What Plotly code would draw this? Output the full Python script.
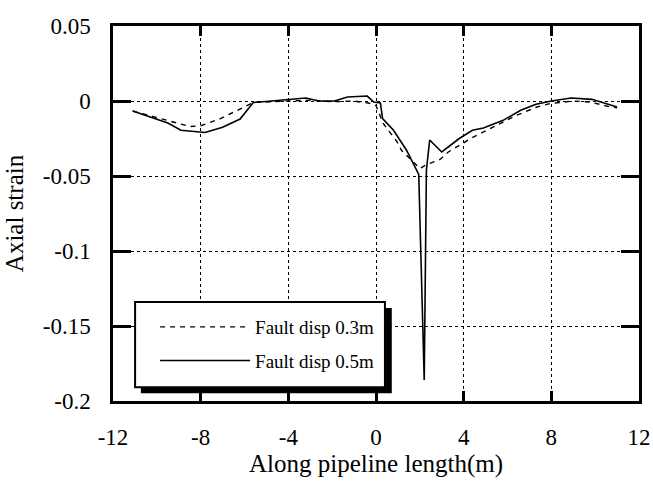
import plotly.graph_objects as go

# along-pipeline position (m) and axial strain
x_05 = [-11.1, -10.2, -9.5, -8.9, -7.8, -7.0, -6.2, -5.6, -4.8, -4.1, -3.2, -2.6,
        -1.9, -1.3, -0.4, -0.1, 0.2, 0.3, 0.8, 1.4, 1.95, 2.2, 2.3, 2.45, 3.0,
        3.8, 4.4, 4.9, 5.8, 6.6, 7.3, 8.0, 8.9, 9.85, 11.0]
y_05 = [-0.0067, -0.011, -0.0147, -0.0195, -0.021, -0.0175, -0.012, -0.001, 0.0,
        0.001, 0.002, 0.0, 0.0, 0.0027, 0.0033, -0.0007, -0.0013, -0.0117, -0.0195,
        -0.033, -0.049, -0.186, -0.046, -0.026, -0.034, -0.025, -0.0195, -0.018,
        -0.0129, -0.0062, -0.0022, 0.0, 0.002, 0.0011, -0.004]

x_03 = [-11.1, -10.2, -9.5, -8.5, -8.0, -7.1, -6.06, -5.6, -4.0, -3.0, -2.0, -1.0,
        -0.3, 0.0, 0.33, 0.64, 0.95, 1.17, 1.6, 2.0, 2.37, 2.92, 3.3, 4.44, 5.36,
        6.42, 7.34, 7.95, 9.0, 9.77, 10.7, 11.0]
y_03 = [-0.0067, -0.010, -0.013, -0.017, -0.0165, -0.0118, -0.004, -0.001, 0.0,
        0.0005, -0.0005, 0.0, -0.0015, -0.003, -0.015, -0.0207, -0.027, -0.033,
        -0.039, -0.045, -0.042, -0.039, -0.034, -0.024, -0.0173, -0.0095, -0.004,
        -0.0017, 0.0, -0.0007, -0.004, -0.0045]

xticks = [-12, -8, -4, 0, 4, 8, 12]
xtick_text = ["-12", "-8", "-4", "0", "4", "8", "12"]
yticks = [0.05, 0, -0.05, -0.1, -0.15, -0.2]
ytick_text = ["0.05", "0", "-0.05", "-0.1", "-0.15", "-0.2"]

FONT = "Liberation Serif"

fig = go.Figure()
fig.add_trace(go.Scatter(x=x_03, y=y_03, mode="lines", name="Fault disp 0.3m",
                         legendgroup="a",
                         line=dict(color="black", width=1.4, dash="5px,5px")))
fig.add_trace(go.Scatter(x=x_05, y=y_05, mode="lines", name="Fault disp 0.5m",
                         legendgroup="b",
                         line=dict(color="black", width=1.6)))

axis_common = dict(
    showline=True, linecolor="black", linewidth=2.5, mirror="ticks",
    ticks="inside", tickcolor="black", tickwidth=3,
    ticklabeloverflow="allow",
    showgrid=True, gridcolor="black", gridwidth=1, griddash="dot",
    zeroline=False, tickfont=dict(family=FONT, size=23, color="black"),
)

fig.update_xaxes(range=[-12, 12], tickvals=xticks, ticktext=xtick_text,
                 ticklen=10, ticklabelstandoff=14, automargin=False,
                 title=dict(text="Along pipeline length(m)", standoff=3,
                            font=dict(family=FONT, size=25, color="black")),
                 **axis_common)
# automargin on so the title standoff is honoured; the margin is wide enough
fig.update_yaxes(range=[-0.2, 0.05], tickvals=yticks, ticktext=ytick_text,
                 ticklen=18, ticklabelstandoff=15, automargin=True,
                 title=dict(text="Axial strain", standoff=12,
                            font=dict(family=FONT, size=25, color="black")),
                 **axis_common)

# legend frame with drop shadow
fig.add_shape(type="rect", xref="paper", yref="paper", x0=0.053, x1=0.530,
              y0=0.021, y1=0.248, fillcolor="black", line=dict(width=0),
              layer="above")
fig.add_shape(type="rect", xref="paper", yref="paper", x0=0.042, x1=0.517,
              y0=0.037, y1=0.264, fillcolor="white",
              line=dict(color="black", width=2), layer="above")

fig.update_layout(
    width=653, height=491,
    margin=dict(l=113, r=14, t=26, b=90),
    paper_bgcolor="white", plot_bgcolor="white",
    font=dict(family=FONT, color="black"),
    legend=dict(x=0.08, y=0.152, xanchor="left", yanchor="middle",
                bgcolor="rgba(0,0,0,0)", borderwidth=0, tracegroupgap=6,
                itemwidth=90,
                font=dict(family=FONT, size=19, color="black")),
)

# drop the default 8px page margin so the figure fills the window exactly
fig.write_html("out.html", config={"displayModeBar": False},
               post_script="document.body.style.margin='0px';")
